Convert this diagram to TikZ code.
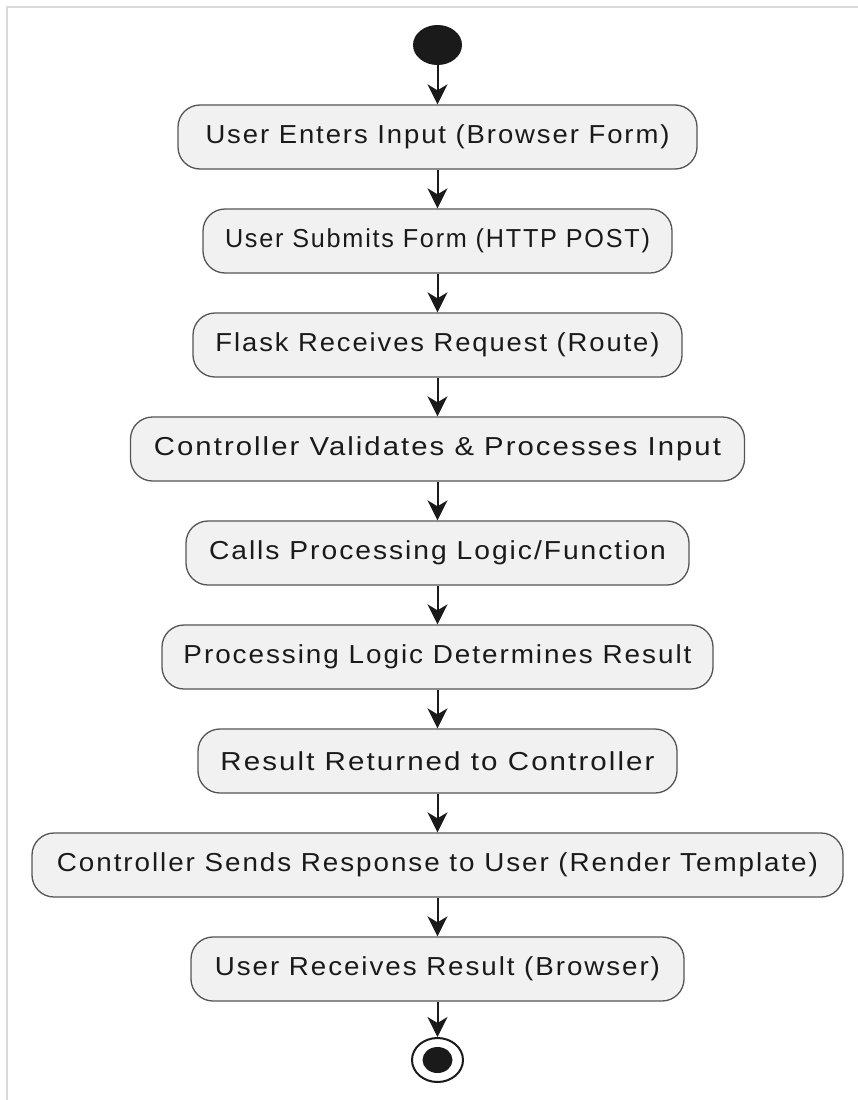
\documentclass[tikz,border=0pt]{standalone}
\usepackage{fontspec}
\setmainfont{Liberation Sans}
\newfontfamily\labelfont[LetterSpace=7]{Liberation Sans}
\usetikzlibrary{shapes.geometric,arrows.meta}
\definecolor{boxfill}{HTML}{F1F1F1}
\definecolor{boxline}{HTML}{555555}
\definecolor{frameline}{HTML}{DADADA}
\definecolor{ink}{HTML}{1A1A1A}
% label text set to a given width, keeping its height
\newcommand{\fitw}[2]{\resizebox{#1}{\height}{#2}}
\tikzset{
  act/.style={draw=boxline, line width=1.3pt, fill=boxfill, rounded corners=22pt,
    minimum height=64pt, inner sep=0pt, font=\labelfont\fontsize{26}{30}\selectfont, text=ink},
  flow/.style={draw=ink, line width=2pt, -{Stealth[length=20pt,width=20pt,inset=6pt]}},
  initial/.style={ellipse, fill=ink, inner sep=0pt, minimum width=49pt, minimum height=40pt},
  final/.style={ellipse, draw=ink, line width=2pt, fill=white, inner sep=0pt,
    minimum width=51pt, minimum height=44pt},
  finaldot/.style={ellipse, fill=ink, inner sep=0pt, minimum width=30pt, minimum height=26pt},
}
\begin{document}
\begin{tikzpicture}[x=1pt,y=-1pt]
\useasboundingbox (0,0) rectangle (858,1100);
\fill[white] (0,0) rectangle (858,1100);
\draw[frameline, line width=2pt] (7,1100) -- (7,6.5) -- (858,6.5);

\node[initial] (start) at (437.5,45) {};
\node[act, minimum width=519pt] (n1) at (437.5,137) {\fitw{464pt}{User Enters Input (Browser Form)}};
\node[act, minimum width=469pt] (n2) at (437.5,241) {\fitw{425pt}{User Submits Form (HTTP POST)}};
\node[act, minimum width=489pt] (n3) at (437.5,345) {\fitw{444pt}{Flask Receives Request (Route)}};
\node[act, minimum width=614pt] (n4) at (437.5,449) {\fitw{567pt}{Controller Validates \& Processes Input}};
\node[act, minimum width=503pt] (n5) at (437.5,553) {\fitw{457pt}{Calls Processing Logic/Function}};
\node[act, minimum width=551pt] (n6) at (437.5,657) {\fitw{508pt}{Processing Logic Determines Result}};
\node[act, minimum width=479pt] (n7) at (437.5,761) {\fitw{434pt}{Result Returned to Controller}};
\node[act, minimum width=811pt] (n8) at (437.5,865) {\fitw{761pt}{Controller Sends Response to User (Render Template)}};
\node[act, minimum width=493pt] (n9) at (437.5,969) {\fitw{445pt}{User Receives Result (Browser)}};
\node[final] (stop) at (437.5,1060) {};
\node[finaldot] (stopdot) at (stop.center) {};

\draw[flow] (start) -- (n1);
\draw[flow] (n1) -- (n2);
\draw[flow] (n2) -- (n3);
\draw[flow] (n3) -- (n4);
\draw[flow] (n4) -- (n5);
\draw[flow] (n5) -- (n6);
\draw[flow] (n6) -- (n7);
\draw[flow] (n7) -- (n8);
\draw[flow] (n8) -- (n9);
\draw[flow] (n9) -- (stop);
\end{tikzpicture}
\end{document}
